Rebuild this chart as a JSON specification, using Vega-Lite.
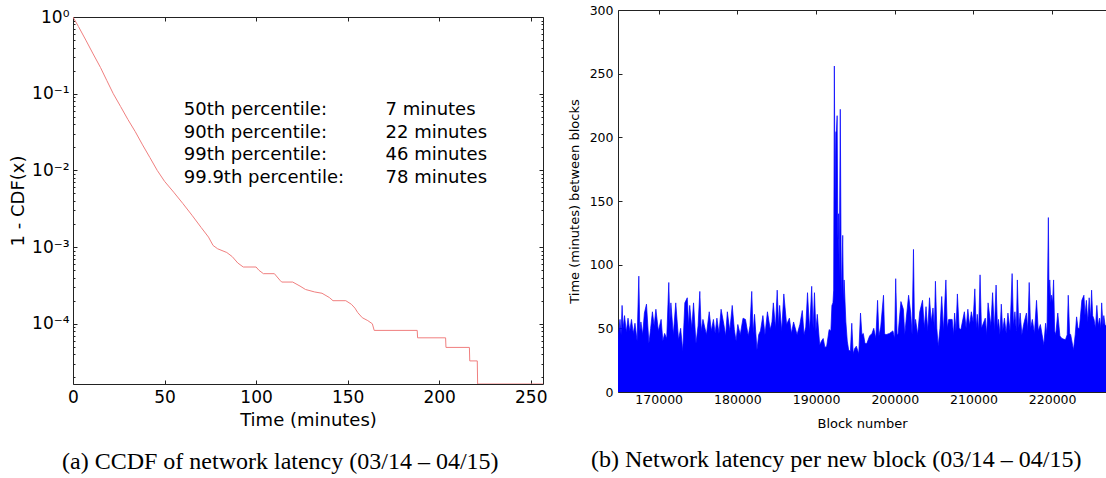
{
  "$schema": "https://vega.github.io/schema/vega-lite/v6.json",
  "background": "white",
  "padding": {"left": 9, "top": 4, "right": 0, "bottom": 0},
  "config": {
    "font": "DejaVu Sans",
    "view": {"stroke": "#222", "strokeWidth": 1},
    "axis": {"grid": false, "labelColor": "#000", "titleColor": "#000", "tickColor": "#222", "domainColor": "#222", "titleFontWeight": "normal", "labelFont": "DejaVu Sans", "titleFont": "DejaVu Sans", "labelOverlap": false, "labelFlush": false},
    "title": {"font": "Liberation Serif", "fontSize": 24, "fontWeight": "normal", "color": "#000", "orient": "bottom", "anchor": "start", "frame": "group"}
  },
  "spacing": 20,
  "hconcat": [
    {
      "spacing": -4,
      "vconcat": [
        {"width": 1, "height": 1, "view": {"stroke": null}, "data": {"values": []}, "mark": "point"},
        {
          "width": 470,
          "height": 367,
          "title": {"text": "(a) CCDF of network latency (03/14 – 04/15)", "dx": -11, "offset": 21},
          "layer": [
            {
              "data": {"name": "ccdf"},
              "mark": {"type": "line", "color": "#f07f7f", "strokeWidth": 1, "clip": true},
              "encoding": {
                "x": {"field": "t", "type": "quantitative", "scale": {"domain": [0, 256.7], "nice": false, "zero": false},
                  "axis": {"orient": "bottom", "values": [0, 50, 100, 150, 200, 250], "title": "Time (minutes)", "titleFontSize": 18, "labelFontSize": 17, "tickSize": -4, "domain": false, "labelPadding": 9, "titlePadding": 6}},
                "y": {"field": "p", "type": "quantitative", "scale": {"type": "log", "domain": [0.0000164, 1], "nice": false},
                  "axis": {"orient": "left", "title": "1 - CDF(x)", "titleFontSize": 18, "labelFontSize": 17, "domain": false,
                    "values": [1, 0.9, 0.8, 0.7, 0.6, 0.5, 0.4, 0.3, 0.2, 0.1, 0.09, 0.08, 0.07, 0.06, 0.05, 0.04, 0.03, 0.02, 0.01, 0.009, 0.008, 0.007, 0.006, 0.005, 0.004, 0.003, 0.002, 0.001, 0.0009, 0.0008, 0.0007, 0.0006, 0.0005, 0.0004, 0.0003, 0.0002, 0.0001, 0.00009, 0.00008, 0.00007, 0.00006, 0.00005, 0.00004, 0.00003, 0.00002],
                    "tickSize": {"condition": {"test": "abs(log(datum.value)/LN10 - round(log(datum.value)/LN10)) < 0.01", "value": -4}, "value": -2},
                    "labelExpr": "abs(log(datum.value)/LN10 - round(log(datum.value)/LN10)) < 0.01 ? '10' + ['⁰','⁻¹','⁻²','⁻³','⁻⁴','⁻⁵'][round(-log(datum.value)/LN10)] : ''",
                    "labelPadding": 8, "titlePadding": 4}}
              }
            },
            {
              "data": {"name": "ccdf"},
              "mark": {"type": "line", "strokeOpacity": 0},
              "encoding": {
                "x": {"field": "t", "type": "quantitative", "axis": {"orient": "top", "values": [0, 50, 100, 150, 200, 250], "labels": false, "title": null, "tickSize": -4, "domain": false}},
                "y": {"field": "p", "type": "quantitative", "scale": {"type": "log", "domain": [0.0000164, 1], "nice": false},
                  "axis": {"orient": "right", "labels": false, "title": null, "domain": false,
                    "values": [1, 0.9, 0.8, 0.7, 0.6, 0.5, 0.4, 0.3, 0.2, 0.1, 0.09, 0.08, 0.07, 0.06, 0.05, 0.04, 0.03, 0.02, 0.01, 0.009, 0.008, 0.007, 0.006, 0.005, 0.004, 0.003, 0.002, 0.001, 0.0009, 0.0008, 0.0007, 0.0006, 0.0005, 0.0004, 0.0003, 0.0002, 0.0001, 0.00009, 0.00008, 0.00007, 0.00006, 0.00005, 0.00004, 0.00003, 0.00002],
                    "tickSize": {"condition": {"test": "abs(log(datum.value)/LN10 - round(log(datum.value)/LN10)) < 0.01", "value": -4}, "value": -2}}}
              }
            },
            {
              "data": {"name": "pcts"},
              "mark": {"type": "text", "align": "left", "baseline": "middle", "fontSize": 18, "font": "DejaVu Sans", "color": "#000"},
              "encoding": {
                "x": {"datum": 60.5, "type": "quantitative", "axis": null},
                "y": {"field": "rank", "type": "quantitative", "scale": {"domain": [-3.044, 12.982], "reverse": true, "nice": false, "zero": false}, "axis": null},
                "text": {"field": "pct"}
              }
            },
            {
              "data": {"name": "pcts"},
              "mark": {"type": "text", "align": "left", "baseline": "middle", "fontSize": 18, "font": "DejaVu Sans", "color": "#000"},
              "encoding": {
                "x": {"datum": 170.7, "type": "quantitative", "axis": null},
                "y": {"field": "rank", "type": "quantitative", "scale": {"domain": [-3.044, 12.982], "reverse": true, "nice": false, "zero": false}, "axis": null},
                "text": {"field": "val"}
              }
            }
          ],
          "resolve": {"scale": {"y": "independent"}, "axis": {"x": "independent", "y": "independent"}}
        }
      ]
    },
    {
      "width": 488,
      "height": 382,
      "view": {"stroke": null},
      "title": {"text": "(b) Network latency per new block (03/14 – 04/15)", "dx": -27, "offset": 17},
      "data": {"name": "blocks"},
      "layer": [
        {
          "mark": {"type": "area", "color": "#0000ff", "stroke": "#0000ff", "strokeWidth": 0.7, "clip": true},
          "encoding": {
            "x": {"field": "block", "type": "quantitative", "scale": {"domain": [164830, 226840], "nice": false, "zero": false},
              "axis": {"orient": "bottom", "values": [170000, 180000, 190000, 200000, 210000, 220000], "format": "d", "title": "Block number", "titleFontSize": 13, "labelFontSize": 12.5, "tickSize": -4, "domain": true, "labelPadding": 5, "titlePadding": 12}},
            "y": {"field": "minutes", "type": "quantitative", "scale": {"domain": [0, 300], "nice": false},
              "axis": {"orient": "left", "values": [0, 50, 100, 150, 200, 250, 300], "title": "Time (minutes) between blocks", "titleFontSize": 13, "labelFontSize": 12.5, "tickSize": -4, "domain": true, "labelPadding": 9, "titlePadding": 8}}
          }
        },
        {
          "mark": {"type": "point", "opacity": 0},
          "encoding": {
            "x": {"field": "block", "type": "quantitative", "axis": {"orient": "top", "values": [170000, 180000, 190000, 200000, 210000, 220000], "labels": false, "title": null, "tickSize": -4, "domain": true}}
          }
        }
      ],
      "resolve": {"axis": {"x": "independent"}}
    }
  ],
  "datasets": {
    "pcts": [
      {"rank": 1, "pct": "50th percentile:", "val": "7 minutes"},
      {"rank": 2, "pct": "90th percentile:", "val": "22 minutes"},
      {"rank": 3, "pct": "99th percentile:", "val": "46 minutes"},
      {"rank": 4, "pct": "99.9th percentile:", "val": "78 minutes"}
    ],
    "ccdf": [
      {"t": 0, "p": 1}, {"t": 3, "p": 0.75}, {"t": 7, "p": 0.5}, {"t": 11, "p": 0.33}, {"t": 15, "p": 0.22},
      {"t": 18.5, "p": 0.148}, {"t": 22, "p": 0.1}, {"t": 26, "p": 0.068}, {"t": 30, "p": 0.046}, {"t": 34, "p": 0.032},
      {"t": 38, "p": 0.0215}, {"t": 42, "p": 0.0147}, {"t": 46, "p": 0.01}, {"t": 50, "p": 0.0072}, {"t": 55, "p": 0.0052},
      {"t": 60, "p": 0.0037}, {"t": 65, "p": 0.0026}, {"t": 70, "p": 0.0018}, {"t": 74, "p": 0.00135}, {"t": 76.5, "p": 0.00105},
      {"t": 79, "p": 0.00095}, {"t": 84, "p": 0.00085}, {"t": 87, "p": 0.00075}, {"t": 90, "p": 0.00062}, {"t": 93, "p": 0.00055},
      {"t": 100, "p": 0.00055}, {"t": 101.5, "p": 0.0005}, {"t": 104, "p": 0.00045}, {"t": 110, "p": 0.00045}, {"t": 113, "p": 0.00037},
      {"t": 114, "p": 0.00035}, {"t": 120, "p": 0.00035}, {"t": 124, "p": 0.00031}, {"t": 127, "p": 0.00028}, {"t": 132, "p": 0.00026},
      {"t": 136, "p": 0.00025}, {"t": 140, "p": 0.00022}, {"t": 142, "p": 0.0002}, {"t": 149, "p": 0.0002}, {"t": 152, "p": 0.00018},
      {"t": 154, "p": 0.00016}, {"t": 155.5, "p": 0.00014}, {"t": 158, "p": 0.00012}, {"t": 161, "p": 0.00011}, {"t": 163.5, "p": 0.0001},
      {"t": 164.5, "p": 0.000082}, {"t": 188, "p": 0.000082}, {"t": 188.2, "p": 0.0000656}, {"t": 203.5, "p": 0.0000656}, {"t": 203.7, "p": 0.0000492},
      {"t": 216.5, "p": 0.0000492}, {"t": 216.7, "p": 0.0000328}, {"t": 220.8, "p": 0.0000328}, {"t": 221, "p": 0.0000164}, {"t": 256.7, "p": 0.0000164}
    ],
    "blocks": [
      {"block": 164830, "minutes": 41}, {"block": 165084, "minutes": 57}, {"block": 165217, "minutes": 45}, {"block": 165350, "minutes": 68},
      {"block": 165482, "minutes": 50}, {"block": 165660, "minutes": 60}, {"block": 165881, "minutes": 47}, {"block": 166104, "minutes": 58},
      {"block": 166324, "minutes": 48}, {"block": 166545, "minutes": 57}, {"block": 166767, "minutes": 46}, {"block": 166988, "minutes": 54},
      {"block": 167254, "minutes": 40}, {"block": 167475, "minutes": 91}, {"block": 167608, "minutes": 48}, {"block": 167741, "minutes": 55},
      {"block": 167963, "minutes": 45}, {"block": 168184, "minutes": 62}, {"block": 168450, "minutes": 69}, {"block": 168760, "minutes": 38},
      {"block": 168981, "minutes": 50}, {"block": 169203, "minutes": 63}, {"block": 169424, "minutes": 52}, {"block": 169646, "minutes": 65},
      {"block": 169956, "minutes": 48}, {"block": 170310, "minutes": 57}, {"block": 170531, "minutes": 40}, {"block": 170753, "minutes": 46},
      {"block": 171019, "minutes": 42}, {"block": 171284, "minutes": 86}, {"block": 171417, "minutes": 55}, {"block": 171550, "minutes": 70},
      {"block": 171860, "minutes": 45}, {"block": 172170, "minutes": 70}, {"block": 172524, "minutes": 41}, {"block": 172790, "minutes": 50},
      {"block": 173056, "minutes": 32}, {"block": 173322, "minutes": 70}, {"block": 173632, "minutes": 74}, {"block": 173809, "minutes": 52},
      {"block": 173942, "minutes": 68}, {"block": 174208, "minutes": 50}, {"block": 174429, "minutes": 70}, {"block": 174739, "minutes": 38},
      {"block": 175005, "minutes": 52}, {"block": 175226, "minutes": 79}, {"block": 175403, "minutes": 48}, {"block": 175625, "minutes": 57},
      {"block": 176068, "minutes": 45}, {"block": 176422, "minutes": 63}, {"block": 176688, "minutes": 48}, {"block": 176954, "minutes": 57},
      {"block": 177175, "minutes": 46}, {"block": 177396, "minutes": 58}, {"block": 177662, "minutes": 46}, {"block": 177928, "minutes": 65},
      {"block": 178282, "minutes": 53}, {"block": 178504, "minutes": 44}, {"block": 178725, "minutes": 63}, {"block": 179035, "minutes": 48},
      {"block": 179345, "minutes": 68}, {"block": 179611, "minutes": 49}, {"block": 179832, "minutes": 40}, {"block": 180054, "minutes": 53},
      {"block": 180364, "minutes": 45}, {"block": 180718, "minutes": 58}, {"block": 181028, "minutes": 57}, {"block": 181382, "minutes": 44},
      {"block": 181604, "minutes": 52}, {"block": 181825, "minutes": 79}, {"block": 182002, "minutes": 46}, {"block": 182180, "minutes": 61},
      {"block": 182490, "minutes": 33}, {"block": 182711, "minutes": 45}, {"block": 182932, "minutes": 48}, {"block": 183243, "minutes": 60},
      {"block": 183508, "minutes": 45}, {"block": 183818, "minutes": 63}, {"block": 184173, "minutes": 49}, {"block": 184394, "minutes": 55},
      {"block": 184571, "minutes": 70}, {"block": 184837, "minutes": 50}, {"block": 185059, "minutes": 80}, {"block": 185236, "minutes": 52},
      {"block": 185369, "minutes": 68}, {"block": 185634, "minutes": 48}, {"block": 185900, "minutes": 77}, {"block": 186254, "minutes": 53},
      {"block": 186609, "minutes": 58}, {"block": 186875, "minutes": 46}, {"block": 187140, "minutes": 55}, {"block": 187583, "minutes": 45},
      {"block": 187937, "minutes": 53}, {"block": 188247, "minutes": 64}, {"block": 188469, "minutes": 45}, {"block": 188690, "minutes": 51},
      {"block": 188911, "minutes": 78}, {"block": 189177, "minutes": 48}, {"block": 189443, "minutes": 83}, {"block": 189620, "minutes": 50},
      {"block": 189797, "minutes": 78}, {"block": 189975, "minutes": 48}, {"block": 190152, "minutes": 61}, {"block": 190462, "minutes": 37},
      {"block": 190683, "minutes": 40}, {"block": 190905, "minutes": 42}, {"block": 191126, "minutes": 35}, {"block": 191348, "minutes": 36},
      {"block": 191658, "minutes": 49}, {"block": 191879, "minutes": 48}, {"block": 192012, "minutes": 68}, {"block": 192145, "minutes": 70},
      {"block": 192234, "minutes": 80}, {"block": 192322, "minutes": 256}, {"block": 192411, "minutes": 150}, {"block": 192500, "minutes": 204},
      {"block": 192588, "minutes": 205}, {"block": 192677, "minutes": 217}, {"block": 192765, "minutes": 120}, {"block": 192854, "minutes": 140},
      {"block": 192943, "minutes": 90}, {"block": 193076, "minutes": 222}, {"block": 193209, "minutes": 75}, {"block": 193386, "minutes": 123},
      {"block": 193474, "minutes": 70}, {"block": 193563, "minutes": 88}, {"block": 193785, "minutes": 55}, {"block": 193962, "minutes": 40},
      {"block": 194139, "minutes": 33}, {"block": 194360, "minutes": 32}, {"block": 194537, "minutes": 54}, {"block": 194715, "minutes": 30},
      {"block": 194892, "minutes": 34}, {"block": 195113, "minutes": 36}, {"block": 195423, "minutes": 30}, {"block": 195645, "minutes": 62},
      {"block": 195822, "minutes": 45}, {"block": 195999, "minutes": 46}, {"block": 196220, "minutes": 38}, {"block": 196442, "minutes": 38},
      {"block": 196796, "minutes": 44}, {"block": 197106, "minutes": 46}, {"block": 197327, "minutes": 50}, {"block": 197593, "minutes": 42},
      {"block": 197814, "minutes": 72}, {"block": 197992, "minutes": 44}, {"block": 198213, "minutes": 51}, {"block": 198567, "minutes": 76},
      {"block": 198700, "minutes": 46}, {"block": 198877, "minutes": 45}, {"block": 199320, "minutes": 46}, {"block": 199763, "minutes": 48},
      {"block": 199984, "minutes": 42}, {"block": 200117, "minutes": 89}, {"block": 200294, "minutes": 45}, {"block": 200427, "minutes": 46},
      {"block": 200781, "minutes": 71}, {"block": 201092, "minutes": 65}, {"block": 201269, "minutes": 45}, {"block": 201446, "minutes": 57},
      {"block": 201756, "minutes": 76}, {"block": 202022, "minutes": 62}, {"block": 202199, "minutes": 45}, {"block": 202376, "minutes": 112},
      {"block": 202509, "minutes": 50}, {"block": 202642, "minutes": 57}, {"block": 202908, "minutes": 45}, {"block": 203173, "minutes": 63},
      {"block": 203528, "minutes": 72}, {"block": 203749, "minutes": 50}, {"block": 203970, "minutes": 67}, {"block": 204191, "minutes": 48},
      {"block": 204413, "minutes": 74}, {"block": 204634, "minutes": 55}, {"block": 204856, "minutes": 66}, {"block": 205033, "minutes": 50},
      {"block": 205166, "minutes": 87}, {"block": 205343, "minutes": 50}, {"block": 205520, "minutes": 36}, {"block": 205742, "minutes": 50},
      {"block": 205963, "minutes": 75}, {"block": 206185, "minutes": 48}, {"block": 206495, "minutes": 88}, {"block": 206672, "minutes": 50},
      {"block": 206849, "minutes": 57}, {"block": 207292, "minutes": 57}, {"block": 207469, "minutes": 45}, {"block": 207602, "minutes": 62},
      {"block": 207779, "minutes": 48}, {"block": 207956, "minutes": 77}, {"block": 208178, "minutes": 50}, {"block": 208399, "minutes": 49},
      {"block": 208842, "minutes": 63}, {"block": 209064, "minutes": 50}, {"block": 209285, "minutes": 65}, {"block": 209507, "minutes": 52},
      {"block": 209728, "minutes": 63}, {"block": 209950, "minutes": 55}, {"block": 210171, "minutes": 81}, {"block": 210348, "minutes": 50},
      {"block": 210481, "minutes": 61}, {"block": 210658, "minutes": 48}, {"block": 210836, "minutes": 92}, {"block": 211013, "minutes": 50},
      {"block": 211190, "minutes": 53}, {"block": 211500, "minutes": 58}, {"block": 211677, "minutes": 45}, {"block": 211854, "minutes": 70},
      {"block": 212208, "minutes": 52}, {"block": 212430, "minutes": 78}, {"block": 212651, "minutes": 48}, {"block": 212873, "minutes": 84},
      {"block": 213050, "minutes": 50}, {"block": 213183, "minutes": 57}, {"block": 213360, "minutes": 45}, {"block": 213537, "minutes": 69},
      {"block": 213714, "minutes": 48}, {"block": 213936, "minutes": 58}, {"block": 214157, "minutes": 46}, {"block": 214379, "minutes": 62},
      {"block": 214645, "minutes": 48}, {"block": 214910, "minutes": 93}, {"block": 215087, "minutes": 52}, {"block": 215265, "minutes": 63},
      {"block": 215442, "minutes": 48}, {"block": 215575, "minutes": 88}, {"block": 215752, "minutes": 50}, {"block": 215929, "minutes": 62},
      {"block": 216151, "minutes": 45}, {"block": 216372, "minutes": 53}, {"block": 216727, "minutes": 62}, {"block": 216904, "minutes": 48},
      {"block": 217081, "minutes": 86}, {"block": 217258, "minutes": 50}, {"block": 217480, "minutes": 57}, {"block": 217746, "minutes": 46},
      {"block": 218011, "minutes": 72}, {"block": 218233, "minutes": 48}, {"block": 218498, "minutes": 53}, {"block": 218720, "minutes": 45},
      {"block": 218941, "minutes": 37}, {"block": 219163, "minutes": 54}, {"block": 219340, "minutes": 45}, {"block": 219517, "minutes": 137},
      {"block": 219606, "minutes": 75}, {"block": 219694, "minutes": 88}, {"block": 219827, "minutes": 70}, {"block": 219916, "minutes": 76},
      {"block": 220049, "minutes": 70}, {"block": 220182, "minutes": 88}, {"block": 220315, "minutes": 48}, {"block": 220448, "minutes": 45},
      {"block": 220714, "minutes": 62}, {"block": 220980, "minutes": 44}, {"block": 221246, "minutes": 42}, {"block": 221689, "minutes": 41},
      {"block": 221910, "minutes": 45}, {"block": 222043, "minutes": 76}, {"block": 222220, "minutes": 46}, {"block": 222353, "minutes": 45},
      {"block": 222707, "minutes": 33}, {"block": 222928, "minutes": 45}, {"block": 223105, "minutes": 59}, {"block": 223283, "minutes": 50},
      {"block": 223460, "minutes": 50}, {"block": 223770, "minutes": 72}, {"block": 224036, "minutes": 76}, {"block": 224169, "minutes": 60},
      {"block": 224346, "minutes": 72}, {"block": 224523, "minutes": 55}, {"block": 224700, "minutes": 74}, {"block": 224877, "minutes": 58},
      {"block": 225010, "minutes": 80}, {"block": 225143, "minutes": 60}, {"block": 225320, "minutes": 57}, {"block": 225498, "minutes": 50},
      {"block": 225675, "minutes": 68}, {"block": 225852, "minutes": 52}, {"block": 226029, "minutes": 58}, {"block": 226180, "minutes": 50},
      {"block": 226290, "minutes": 70}, {"block": 226450, "minutes": 52}, {"block": 226560, "minutes": 60}, {"block": 226709, "minutes": 53},
      {"block": 226840, "minutes": 52}
    ]
  }
}
